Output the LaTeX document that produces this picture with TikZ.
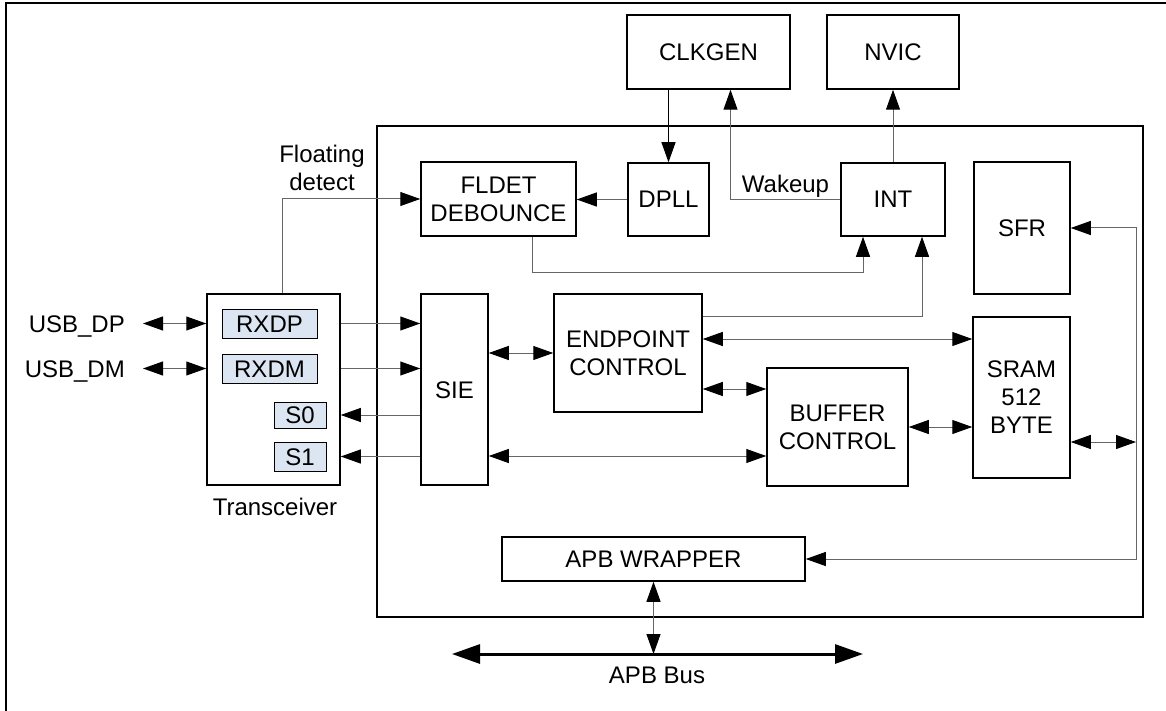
\documentclass[tikz,border=0pt]{standalone}
\usepackage{fontspec}
\setmainfont{Liberation Sans}
\usetikzlibrary{arrows.meta,calc}

\definecolor{azulclaro}{HTML}{DCE6F2}

\tikzset{
	bloco/.style={draw, line width=1.5pt, inner sep=0pt, align=center},
	linha/.style={text height=17pt, text depth=0pt},
	rotulo/.style={inner sep=0pt, text height=17pt, text depth=0pt},
	sinal/.style={draw, line width=1pt, fill=azulclaro, inner sep=0pt, text height=17pt, text depth=0pt},
	fio/.style={draw=black!60, line width=1pt},
}

\begin{document}
\begin{tikzpicture}[x=1pt, y=-1pt, >={Triangle[length=20pt, width=14pt, color=black]}, font=\fontsize{24}{28}\selectfont]
	
		\useasboundingbox (0,0) rectangle (1166,711);
		
		% Moldura
		
		\draw[line width=1.5pt] (6,711) -- (6,3) -- (1166,3);
		
		\draw[line width=2pt] (377,126) rectangle (1143,617);
		
		% Blocos
		
		\draw node[bloco, linha, minimum width=163pt, minimum height=74pt] (clkgen) at (708.5,52) {CLKGEN} ;
		
		\draw node[bloco, linha, minimum width=132pt, minimum height=74pt] (nvic) at (893,52) {NVIC} ;
		
		\draw node[bloco, minimum width=155pt, minimum height=74pt] (fldet) at (498.5,199) {FLDET\\DEBOUNCE} ;
		
		\draw node[bloco, linha, minimum width=81pt, minimum height=73pt] (dpll) at (668.5,199.5) {DPLL} ;
		
		\draw node[bloco, linha, minimum width=104pt, minimum height=73pt] (int) at (893,199.5) {INT} ;
		
		\draw node[bloco, linha, minimum width=96pt, minimum height=132pt] (sfr) at (1022,228) {SFR} ;
		
		\draw node[bloco, minimum width=97pt, minimum height=161pt] (sram) at (1021.5,397.5) {SRAM\\512\\BYTE} ;
		
		\draw node[bloco, linha, minimum width=67pt, minimum height=191pt] (sie) at (454.5,389.5) {SIE} ;
		
		\draw node[bloco, minimum width=148pt, minimum height=118pt] (ep) at (628,353) {ENDPOINT\\CONTROL} ;
		
		\draw node[bloco, minimum width=141pt, minimum height=118pt] (buf) at (837.5,427) {BUFFER\\CONTROL} ;
		
		\draw node[bloco, linha, minimum width=303pt, minimum height=44pt] (apbw) at (653.5,559) {APB WRAPPER} ;
		
		% Transceiver
		
		\draw node[bloco, minimum width=133pt, minimum height=191pt] (trx) at (273.5,389.5) {} ;
		
		\draw node[sinal, minimum width=95pt, minimum height=29pt] (rxdp) at (269.5,323.5) {RXDP} ;
		
		\draw node[sinal, minimum width=95pt, minimum height=29pt] (rxdm) at (269.5,368.5) {RXDM} ;
		
		\draw node[sinal, minimum width=52pt, minimum height=26pt] (s0) at (300,415) {S0} ;
		
		\draw node[sinal, minimum width=52pt, minimum height=29pt] (s1) at (300,456.5) {S1} ;
		
		\draw node[rotulo] (trxl) at (275,506.5) {Transceiver} ;
		
		\draw node[rotulo, anchor=east] (usbdp) at (125,323.5) {USB\_DP} ;
		
		\draw node[rotulo, anchor=east] (usbdm) at (125,368.5) {USB\_DM} ;
		
		% Textos
		
		\draw node[inner sep=0pt, align=center] (flt) at (322,168) {Floating\\detect} ;
		
		\draw node[rotulo] (wk) at (785.5,184) {Wakeup} ;
		
		\draw node[rotulo] (apbl) at (657,675) {APB Bus} ;
		
		% Ligacoes
		
		\draw[->, line width=1pt] (clkgen.south -| dpll.north) -- (dpll.north);
		
		\draw[fio, ->] (int.west) -| ($(clkgen.south)+(22,0)$);
		
		\draw[fio, ->] (int.north) -- (nvic.south);
		
		\draw[fio, ->] (dpll.west) -- (dpll.west -| fldet.east);
		
		\draw[fio, ->] ($(trx.north)+(8.5,0)$) |- (fldet.west);
		
		\draw[fio, ->] ($(fldet.south)+(33.5,0)$) -- ++(0,36) -| ($(int.south)+(-30,0)$);
		
		\draw[fio, ->] ($(ep.north east)+(0,23)$) -| ($(int.south)+(29,0)$);
		
		\draw[fio, <->] ($(ep.east)+(0,-14)$) -- ($(ep.east -| sram.west)+(0,-14)$);
		
		\draw[fio, <->] ($(ep.east)+(0,36)$) -- ($(ep.east -| buf.west)+(0,36)$);
		
		\draw[fio, <->] (sie.east |- ep.west) -- (ep.west);
		
		\draw[fio, <->] ($(sie.east |- buf.west)+(0,29)$) -- ($(buf.west)+(0,29)$);
		
		\draw[fio, <->] (buf.east) -- (buf.east -| sram.west);
		
		\coordinate (dir) at (1136,442);
		
		\draw[fio, <->] (sram.east |- dir) -- (dir);
		
		\draw[fio, <->] (sfr.east) -| (dir) |- (apbw.east);
		
		\draw[fio, ->] (trx.east |- rxdp) -- (sie.west |- rxdp);
		
		\draw[fio, ->] (trx.east |- rxdm) -- (sie.west |- rxdm);
		
		\draw[fio, ->] (sie.west |- s0) -- (trx.east |- s0);
		
		\draw[fio, ->] (sie.west |- s1) -- (trx.east |- s1);
		
		\draw[fio, <->] ($(usbdp.east)+(18,0)$) -- (trx.west |- usbdp.east);
		
		\draw[fio, <->] ($(usbdm.east)+(18,0)$) -- (trx.west |- usbdm.east);
		
		% APB Bus
		
		\coordinate (busE) at (452,654);
		
		\coordinate (busD) at (863,654);
		
		\draw[line width=3pt, <->, >={Triangle[length=28pt, width=19pt]}] (busE) -- (busD);
		
		\draw[fio, <->] (apbw.south) -- (apbw.south |- busE);
		
	\end{tikzpicture}
\end{document}
